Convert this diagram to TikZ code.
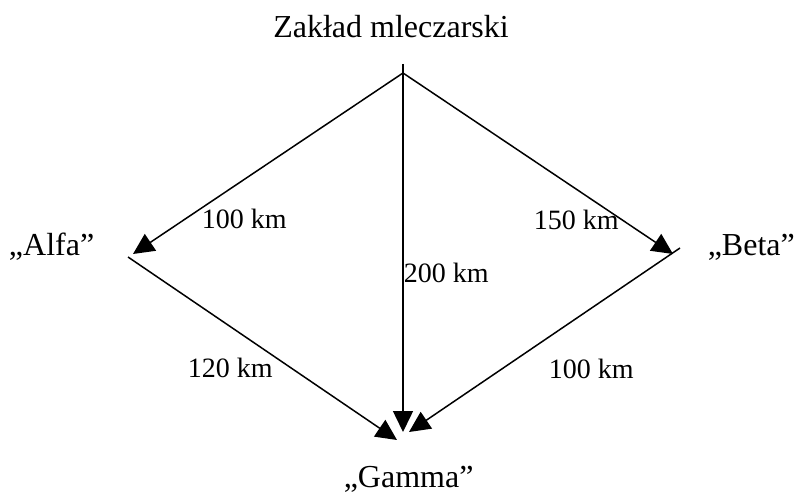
\documentclass[tikz,border=0pt]{standalone}
\usepackage{fontspec}
\setmainfont{Liberation Serif}
\usetikzlibrary{arrows.meta}
\tikzset{
  every picture/.style={line width=1.5pt},
  place/.style={font=\fontsize{32}{38}\selectfont, inner sep=0pt},
  dist/.style={font=\fontsize{28}{34}\selectfont, inner sep=0pt, anchor=base west},
  route/.style={-{Triangle[length=21pt, width=20pt]}},
}
\begin{document}
\begin{tikzpicture}[x=1pt, y=-1pt]
  \useasboundingbox (0,0) rectangle (797,497);
  \node[place, anchor=base] (zaklad) at (391,38) {Zakład mleczarski};
  \node[place, anchor=base east] (alfa) at (95,255) {„Alfa”};
  \node[place, anchor=base west] (beta) at (707,255) {„Beta”};
  \node[place, anchor=base west] (gamma) at (343,487) {„Gamma”};
  \coordinate (top) at (403,64);
  \coordinate (hub) at (403,73);
  \coordinate (alfaIn) at (133,254);
  \coordinate (alfaOut) at (128,257);
  \coordinate (betaIn) at (673,254);
  \coordinate (betaOut) at (680,248);
  \coordinate (gammaA) at (397,440);
  \coordinate (gammaZ) at (403,432);
  \coordinate (gammaB) at (409,432);
  \draw[route] (top) -- (gammaZ);
  \draw[route] (hub) -- (alfaIn);
  \draw[route] (hub) -- (betaIn);
  \draw[route] (alfaOut) -- (gammaA);
  \draw[route] (betaOut) -- (gammaB);
  \node[dist] (za) at (201,228) {100 km};
  \node[dist] (zb) at (533,229) {150 km};
  \node[dist] (zg) at (403,282) {200 km};
  \node[dist] (ag) at (187,377) {120 km};
  \node[dist] (bg) at (548,378) {100 km};
\end{tikzpicture}
\end{document}
